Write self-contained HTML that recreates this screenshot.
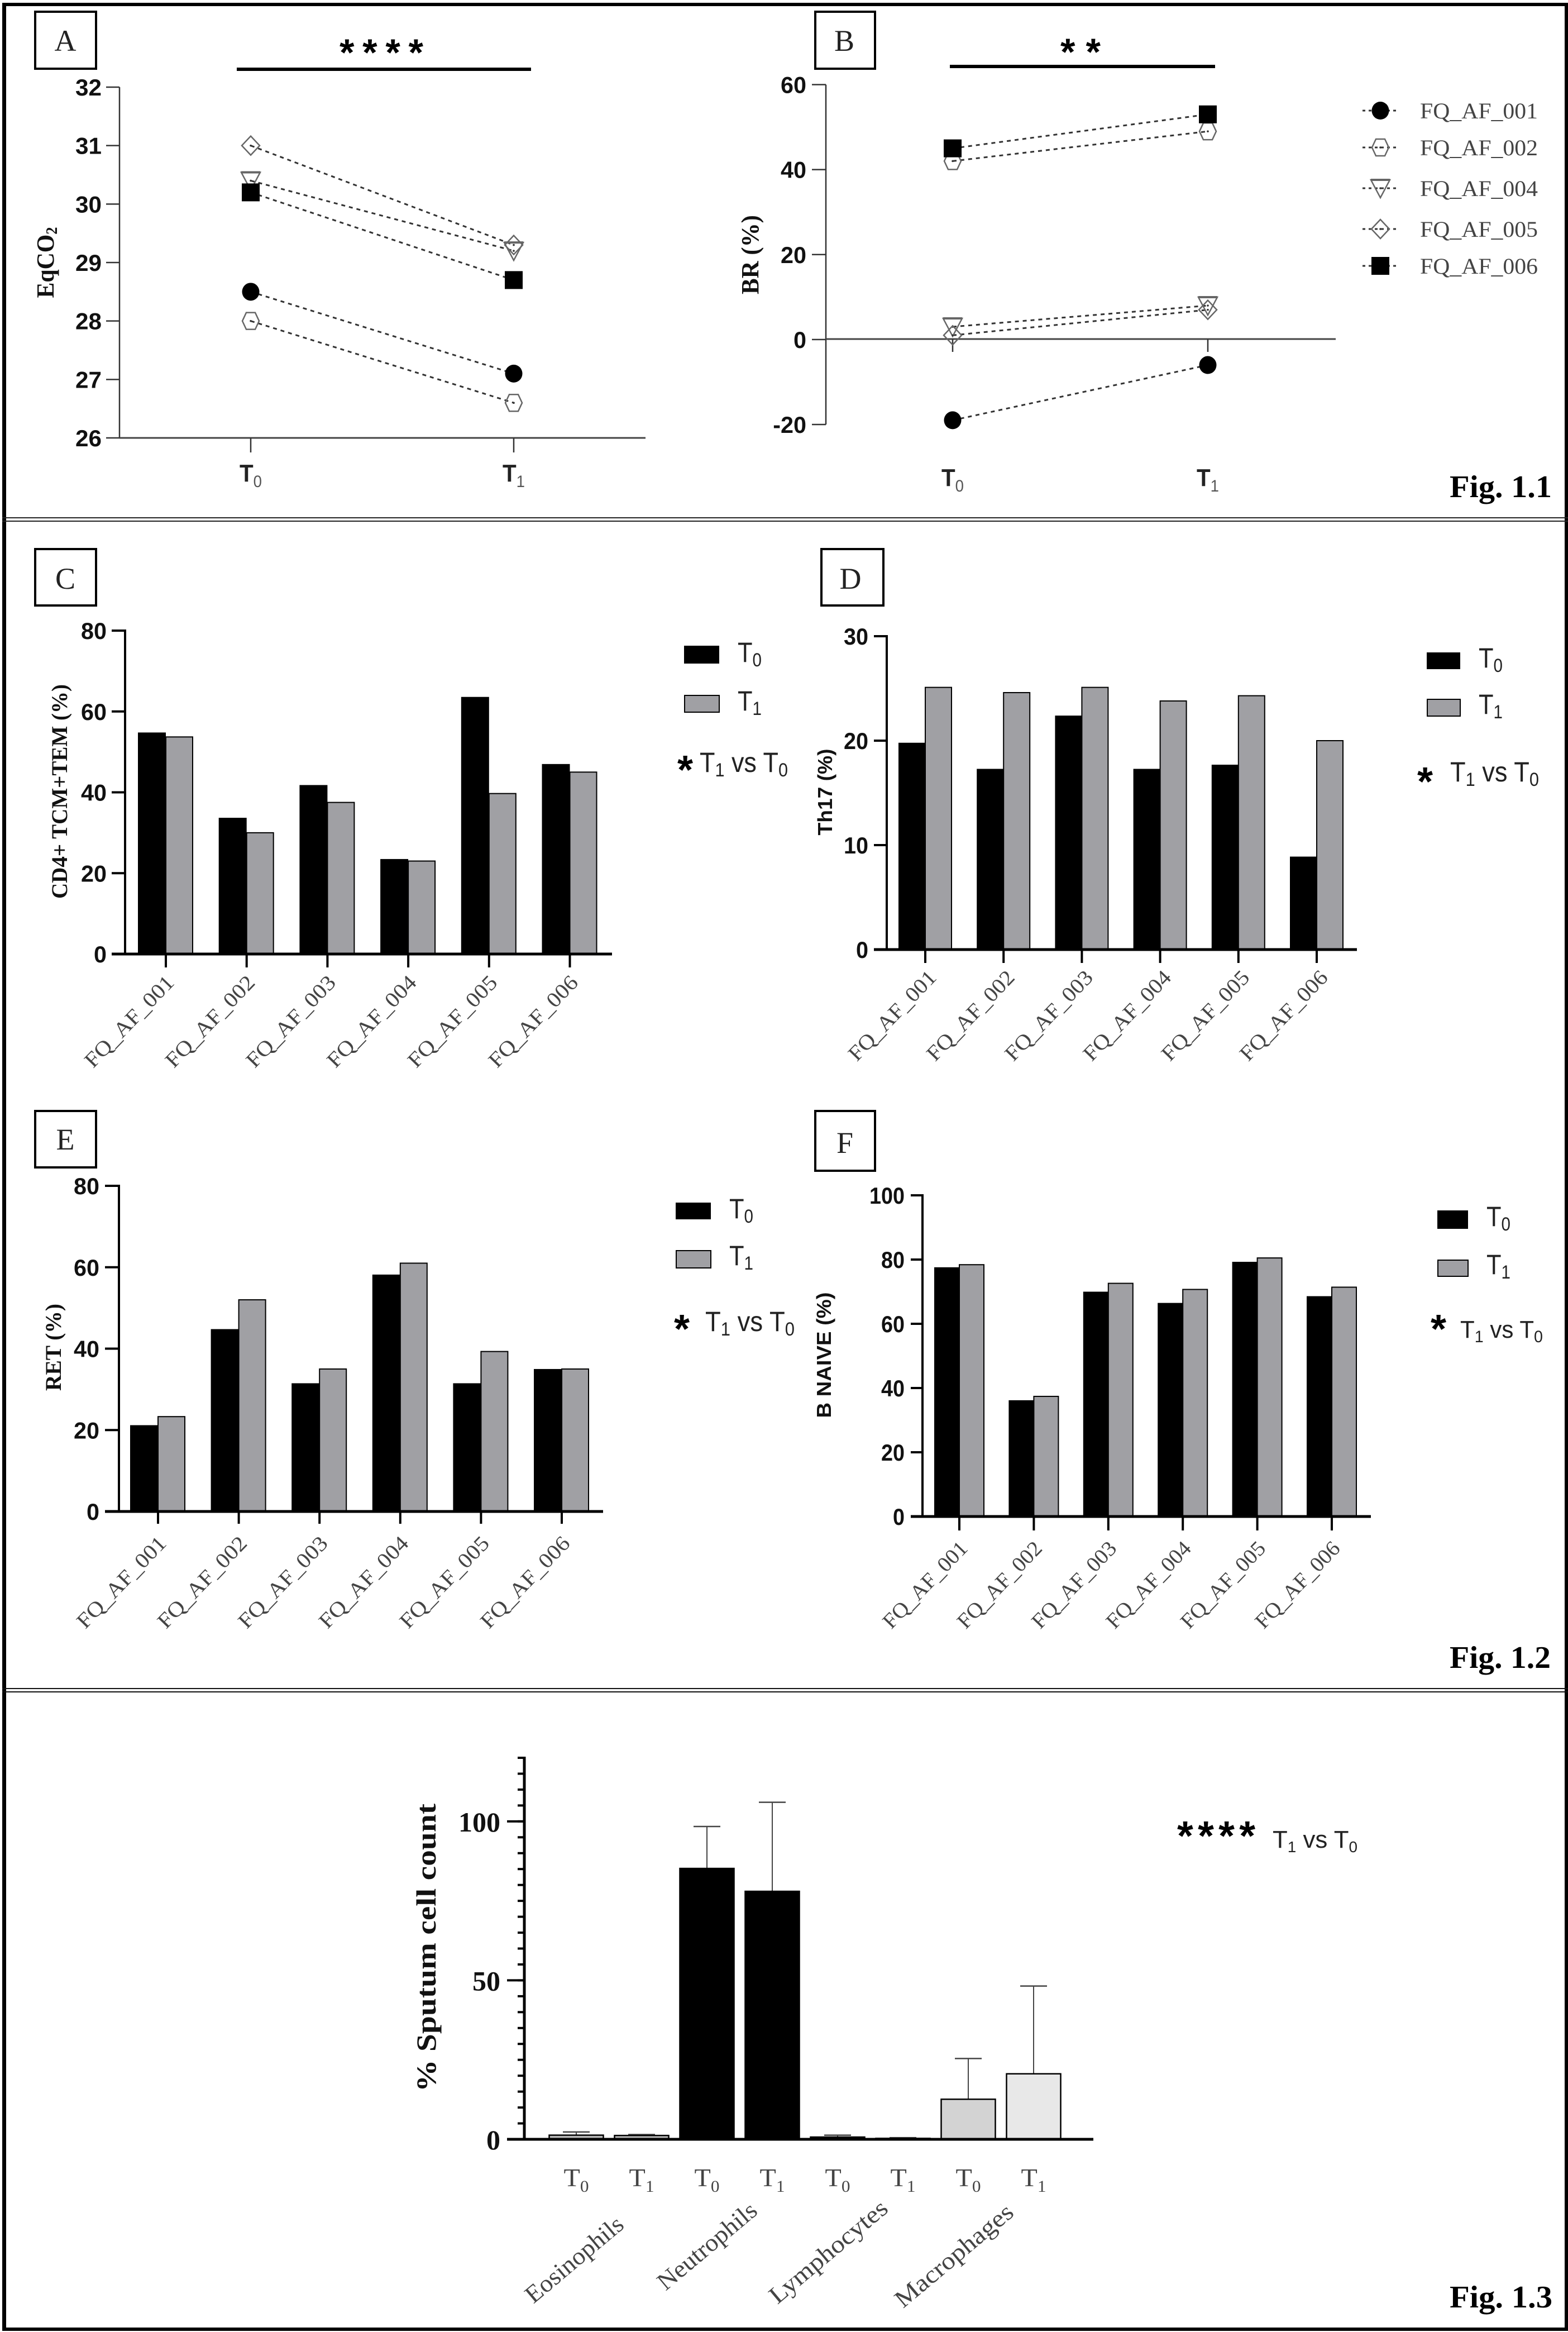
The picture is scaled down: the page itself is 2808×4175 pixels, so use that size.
<!DOCTYPE html>
<html lang="en">
<head>
<meta charset="utf-8">
<title>Figure 1 panels</title>
<style>
html,body{margin:0;padding:0;background:#fff}
svg{display:block}
.letter{font-family:"Liberation Serif",serif;font-size:54px;fill:#222;text-anchor:middle}
.fig{font-family:"Liberation Serif",serif;font-size:56px;font-weight:bold;fill:#000}
.ser{font-family:"Liberation Serif",serif;font-weight:bold;fill:#111;text-anchor:middle}
.san{font-family:"Liberation Sans",sans-serif;font-weight:bold;fill:#111;text-anchor:middle}
.leg{font-family:"Liberation Sans",sans-serif;font-size:50px;fill:#222}
.star{font-family:"Liberation Sans",sans-serif;font-weight:bold;fill:#000}
</style>
</head>
<body>
<svg id="figure" xmlns="http://www.w3.org/2000/svg" width="2808" height="4175" viewBox="0 0 2808 4175">
<rect x="0" y="0" width="2808" height="4175" fill="#fff"/>
<g id="frame">
  <rect x="4" y="5" width="7" height="4168" fill="#000"/>
  <rect x="2802" y="5" width="6" height="4168" fill="#000"/>
  <rect x="4" y="5" width="2804" height="6" fill="#000"/>
  <rect x="4" y="4167" width="2804" height="6" fill="#000"/>
  <rect x="4" y="926" width="2804" height="2" fill="#222"/>
  <rect x="4" y="932" width="2804" height="2" fill="#222"/>
  <rect x="4" y="3022" width="2804" height="2" fill="#111"/>
  <rect x="4" y="3028" width="2804" height="2" fill="#111"/>
</g>

<!-- Panel letters -->
<g fill="none" stroke="#000" stroke-width="4">
  <rect x="63" y="21" width="109" height="102"/>
  <rect x="1460" y="21" width="107" height="102"/>
  <rect x="63" y="983" width="109" height="101"/>
  <rect x="1471" y="983" width="111" height="101"/>
  <rect x="63" y="1989" width="109" height="101"/>
  <rect x="1460" y="1989" width="107" height="107"/>
</g>
<text class="letter" x="117" y="91">A</text>
<text class="letter" x="1512" y="91">B</text>
<text class="letter" x="117" y="1054">C</text>
<text class="letter" x="1523" y="1054">D</text>
<text class="letter" x="117" y="2058">E</text>
<text class="letter" x="1513" y="2064">F</text>

<!-- Significance bars -->
<rect x="424" y="121" width="527" height="6" fill="#000"/>
<rect x="1701" y="116" width="475" height="6" fill="#000"/>
<text class="star" font-size="68" x="683" y="117" text-anchor="middle" textLength="150" lengthAdjust="spacing">****</text>
<text class="star" font-size="68" x="1935" y="116" text-anchor="middle" textLength="72" lengthAdjust="spacing">**</text>

<!-- Y titles -->
<text class="ser" font-size="44" transform="translate(96,470) rotate(-90)" textLength="127" lengthAdjust="spacingAndGlyphs">EqCO<tspan font-size="28" dy="6">2</tspan></text>
<text class="ser" font-size="44" transform="translate(1358,456) rotate(-90)" textLength="142" lengthAdjust="spacingAndGlyphs">BR (%)</text>
<text class="ser" font-size="40" transform="translate(120,1417) rotate(-90)" textLength="384" lengthAdjust="spacingAndGlyphs">CD4+ TCM+TEM (%)</text>
<text class="san" font-size="36" transform="translate(1490,1418) rotate(-90)" textLength="155" lengthAdjust="spacingAndGlyphs">Th17 (%)</text>
<text class="ser" font-size="40" transform="translate(109,2412) rotate(-90)" textLength="156" lengthAdjust="spacingAndGlyphs">RET (%)</text>
<text class="san" font-size="36" transform="translate(1488,2426) rotate(-90)" textLength="225" lengthAdjust="spacingAndGlyphs">B NAIVE (%)</text>
<text class="ser" font-size="50" transform="translate(780,3487) rotate(-90)" textLength="516" lengthAdjust="spacingAndGlyphs">% Sputum cell count</text>

<!-- Bar legends -->
<g>
  <rect x="1225" y="1156" width="63" height="32" fill="#000"/>
  <rect x="1226" y="1245" width="62" height="30" fill="#a0a0a4" stroke="#000" stroke-width="2"/>
  <text class="leg" x="1321" y="1185" textLength="43" lengthAdjust="spacingAndGlyphs">T<tspan font-size="34" dy="8">0</tspan></text>
  <text class="leg" x="1321" y="1272" textLength="43" lengthAdjust="spacingAndGlyphs">T<tspan font-size="34" dy="8">1</tspan></text>
  <text class="star" font-size="72" x="1227" y="1403" text-anchor="middle">*</text>
  <text class="leg" x="1253" y="1382" textLength="158" lengthAdjust="spacingAndGlyphs">T<tspan font-size="34" dy="8">1</tspan><tspan dy="-8"> vs T</tspan><tspan font-size="34" dy="8">0</tspan></text>
</g>
<g>
  <rect x="2555" y="1168" width="60" height="30" fill="#000"/>
  <rect x="2556" y="1252" width="59" height="30" fill="#a0a0a4" stroke="#000" stroke-width="2"/>
  <text class="leg" x="2648" y="1195" textLength="43" lengthAdjust="spacingAndGlyphs">T<tspan font-size="34" dy="8">0</tspan></text>
  <text class="leg" x="2648" y="1278" textLength="43" lengthAdjust="spacingAndGlyphs">T<tspan font-size="34" dy="8">1</tspan></text>
  <text class="star" font-size="72" x="2552" y="1424" text-anchor="middle">*</text>
  <text class="leg" x="2597" y="1399" textLength="159" lengthAdjust="spacingAndGlyphs">T<tspan font-size="34" dy="8">1</tspan><tspan dy="-8"> vs T</tspan><tspan font-size="34" dy="8">0</tspan></text>
</g>
<g>
  <rect x="1210" y="2153" width="63" height="30" fill="#000"/>
  <rect x="1211" y="2239" width="62" height="31" fill="#a0a0a4" stroke="#000" stroke-width="2"/>
  <text class="leg" x="1306" y="2181" textLength="43" lengthAdjust="spacingAndGlyphs">T<tspan font-size="34" dy="8">0</tspan></text>
  <text class="leg" x="1306" y="2265" textLength="43" lengthAdjust="spacingAndGlyphs">T<tspan font-size="34" dy="8">1</tspan></text>
  <text class="star" font-size="72" x="1221" y="2404" text-anchor="middle">*</text>
  <text class="leg" x="1263" y="2383" textLength="160" lengthAdjust="spacingAndGlyphs">T<tspan font-size="34" dy="8">1</tspan><tspan dy="-8"> vs T</tspan><tspan font-size="34" dy="8">0</tspan></text>
</g>
<g>
  <rect x="2574" y="2167" width="55" height="33" fill="#000"/>
  <rect x="2575" y="2256" width="54" height="29" fill="#a0a0a4" stroke="#000" stroke-width="2"/>
  <text class="leg" x="2662" y="2195" textLength="43" lengthAdjust="spacingAndGlyphs">T<tspan font-size="34" dy="8">0</tspan></text>
  <text class="leg" x="2662" y="2281" textLength="43" lengthAdjust="spacingAndGlyphs">T<tspan font-size="34" dy="8">1</tspan></text>
  <text class="star" font-size="72" x="2576" y="2404" text-anchor="middle">*</text>
  <text class="leg" style="font-size:44px" x="2615" y="2395" textLength="148" lengthAdjust="spacingAndGlyphs">T<tspan font-size="30" dy="8">1</tspan><tspan dy="-8"> vs T</tspan><tspan font-size="30" dy="8">0</tspan></text>
</g>
<g>
  <text class="star" font-size="74" x="2178" y="3312" text-anchor="middle" textLength="140" lengthAdjust="spacing">****</text>
  <text class="leg" style="font-size:44px" x="2279" y="3308" textLength="152" lengthAdjust="spacingAndGlyphs">T<tspan font-size="28" dy="8">1</tspan><tspan dy="-8"> vs T</tspan><tspan font-size="28" dy="8">0</tspan></text>
</g>

<!-- Figure labels -->
<text class="fig" x="2596" y="890" textLength="183" lengthAdjust="spacingAndGlyphs">Fig. 1.1</text>
<text class="fig" x="2596" y="2986" textLength="181" lengthAdjust="spacingAndGlyphs">Fig. 1.2</text>
<text class="fig" x="2596" y="4131" textLength="184" lengthAdjust="spacingAndGlyphs">Fig. 1.3</text>

<g id="charts"></g>
</svg>

<script>
/* ---------- Data ---------- */
const timepoints = ['0', '1'];

const linePatients = ['FQ_AF_001', 'FQ_AF_002', 'FQ_AF_004', 'FQ_AF_005', 'FQ_AF_006'];
const eqco2T0 = [28.5, 28, 30.4, 31, 30.2];
const eqco2T1 = [27.1, 26.6, 29.2, 29.3, 28.7];
const eqco2Ticks = [26, 27, 28, 29, 30, 31, 32];
const brT0 = [-19, 42, 3, 1, 45];
const brT1 = [-6, 49, 8, 7, 53];
const brTicks = [-20, 0, 20, 40, 60];

const barPatients = ['FQ_AF_001', 'FQ_AF_002', 'FQ_AF_003', 'FQ_AF_004', 'FQ_AF_005', 'FQ_AF_006'];
const cd4T0 = [54.8, 33.7, 41.8, 23.5, 63.6, 47];
const cd4T1 = [53.7, 30, 37.5, 23, 39.7, 45];
const cd4Ticks = [0, 20, 40, 60, 80];
const th17T0 = [19.8, 17.3, 22.4, 17.3, 17.7, 8.9];
const th17T1 = [25.1, 24.6, 25.1, 23.8, 24.3, 20];
const th17Ticks = [0, 10, 20, 30];
const retT0 = [21.2, 44.8, 31.5, 58.2, 31.5, 35];
const retT1 = [23.3, 52, 35, 61, 39.3, 35];
const retTicks = [0, 20, 40, 60, 80];
const bNaiveT0 = [77.6, 36.2, 70, 66.5, 79.3, 68.6];
const bNaiveT1 = [78.4, 37.4, 72.6, 70.7, 80.5, 71.4];
const bNaiveTicks = [0, 20, 40, 60, 80, 100];

const sputumCategories = ['Eosinophils', 'Neutrophils', 'Lymphocytes', 'Macrophages'];
const sputumMeans = [1.3, 1.2, 85.2, 78, 0.7, 0.3, 12.6, 20.6];
const sputumErrors = [1, 0.3, 13.2, 28, 0.6, 0.2, 12.8, 27.6];
const sputumMajorTicks = [0, 50, 100];
const sputumMinorTicks = [0, 5, 10, 15, 20, 25, 30, 35, 40, 45, 50, 55, 60, 65, 70, 75, 80, 85, 90, 95, 100, 105, 110, 115, 120];

/* ---------- Layout (pixels and styling, separate from the data) ---------- */
const layoutA = {key:'a', axisX:214, yTop:156, yBottom:784, axisRight:1156, tickLeft:190, tickRight:182, x0:449, x1:920, digit:23.5, tickEnd:810, labelY:862, axisY:784};
const layoutB = {key:'b', axisX:1479, yTop:151.5, yBottom:760, axisRight:2392, tickLeft:1454, tickRight:1444, x0:1706, x1:2163, digit:23, tickEnd:630, labelY:870, axisY:607};
const layoutC = {key:'c', axisX:224, yTop:1129, yBottom:1708, axisRight:1096, tickLeft:200, labelRight:191, x0:297, step:144.7, bw0:50, bw1:48, tickEnd:1732, labelDx:17, labelDy:53, labelLen:212, digit:23};
const layoutD = {key:'d', axisX:1588, yTop:1139, yBottom:1700, axisRight:2430, tickLeft:1565, labelRight:1555, x0:1657, step:140.2, bw0:48, bw1:47, tickEnd:1724, labelDx:22, labelDy:52, labelLen:208, digit:22};
const layoutE = {key:'e', axisX:213, yTop:2123, yBottom:2706, axisRight:1080, tickLeft:188, labelRight:178, x0:283, step:144.6, bw0:50, bw1:48, tickEnd:2728, labelDx:17, labelDy:59, labelLen:212, digit:23};
const layoutF = {key:'f', axisX:1652, yTop:2140, yBottom:2715, axisRight:2455, tickLeft:1631, labelRight:1620, x0:1718, step:133.4, bw0:45, bw1:44, tickEnd:2740, labelDx:17, labelDy:59, labelLen:200, digit:21};
const layoutS = {axisX:939, yTop:3147, yBottom:3830, axisRight:1958, majorLeft:908, minorLeft:927, x0:1032, step:117, bw:97, cap:48, labelRight:896, tLabelY:3914,
  catEnds:[[1120,3987],[1359,3962],[1593,3958],[1818,3965]], catLens:[215,218,262,262],
  fills:['#b9b9b9','#b9b9b9','#000','#000','#000','#000','#d3d3d3','#e8e8e8']};
const legendLayout = {lineLeft:2440, lineRight:2504, markerX:2472, textX:2543, textLen:211, rows:[198,264,337,410,476]};
const tickFontSize = 42;

/* ---------- Helpers ---------- */
const NS = 'http://www.w3.org/2000/svg';
const root = document.getElementById('charts');
function make(tag, attrs, parent) {
  const el = document.createElementNS(NS, tag);
  for (const k in attrs) el.setAttribute(k, attrs[k]);
  parent.appendChild(el);
  return el;
}
function line(parent, x1, y1, x2, y2, stroke, width) {
  return make('line', {x1:x1, y1:y1, x2:x2, y2:y2, stroke:stroke, 'stroke-width':width}, parent);
}
function tickText(parent, rightX, y, str, digitW) {
  const el = make('text', {
    transform:'translate(' + rightX + ',' + y + ') scale(' + (digitW / (tickFontSize * 0.556)) + ',1)',
    'text-anchor':'end', 'font-family':'"Liberation Sans",sans-serif', 'font-weight':'bold',
    'font-size':tickFontSize, fill:'#111'
  }, parent);
  el.textContent = str;
  return el;
}
function timeLabel(parent, x, y, sub) {
  const el = make('text', {x:x, y:y, 'text-anchor':'middle', textLength:40, lengthAdjust:'spacingAndGlyphs',
    'font-family':'"Liberation Sans",sans-serif', 'font-weight':'bold', 'font-size':44, fill:'#222'}, parent);
  el.appendChild(document.createTextNode('T'));
  const s = make('tspan', {dy:10, 'font-size':30, 'font-weight':'normal', fill:'#555'}, el);
  s.textContent = sub;
  return el;
}
function drawMarker(parent, kind, cx, cy) {
  const open = {fill:'none', stroke:'#666', 'stroke-width':2.5};
  let el;
  if (kind === 0) {
    el = make('ellipse', {cx:cx, cy:cy, rx:15.5, ry:16, fill:'#000'}, parent);
  } else if (kind === 4) {
    el = make('rect', {x:cx - 16, y:cy - 16, width:32, height:32, fill:'#000'}, parent);
  } else {
    let pts;
    if (kind === 1) pts = [[-15,0],[-8,-15],[8,-15],[15,0],[8,15],[-8,15]];
    if (kind === 2) pts = [[-17,-15],[17,-15],[0,17]];
    if (kind === 3) pts = [[0,-17],[16,0],[0,17],[-16,0]];
    el = make('polygon', Object.assign({points:pts.map(p => (cx + p[0]) + ',' + (cy + p[1])).join(' ')}, open), parent);
    make('circle', {cx:cx, cy:cy, r:1.8, fill:'#333'}, parent);
    if (kind === 2) line(parent, cx - 17, cy - 15, cx + 17, cy - 15, '#666', 4);
  }
  return el;
}

/* ---------- Paired line panels (A, B) ---------- */
function drawLinePanel(L, ticks, valuesT0, valuesT1) {
  const g = make('g', {}, root);
  
  
  const lo = ticks[0], hi = ticks[ticks.length - 1];
  const y = v => L.yBottom + (v - lo) / (hi - lo) * (L.yTop - L.yBottom);

  const yAxis = line(g, L.axisX, L.yTop, L.axisX, L.yBottom, '#333', 2.5);
  
  
  const xAxis = line(g, L.axisX, L.axisY, L.axisRight, L.axisY, '#444', 3);
  
  

  ticks.forEach(t => {
    const tk = line(g, L.tickLeft, y(t), L.axisX, y(t), '#333', 2.5);
    
    
    const lab = tickText(g, L.tickRight, y(t) + 15, String(t), L.digit);
    
    
  });
  [L.x0, L.x1].forEach((xp, i) => {
    const tk = line(g, xp, L.axisY, xp, L.tickEnd, '#333', 2.5);
    
    
    const lab = timeLabel(g, xp, L.labelY, timepoints[i]);
    
    
  });

  linePatients.forEach((name, i) => {
    const a = valuesT0[i], b = valuesT1[i];
    const ln = make('line', {x1:L.x0, y1:y(a), x2:L.x1, y2:y(b), stroke:'#333', 'stroke-width':3, 'stroke-dasharray':'7 7'}, g);
    
    
  });
  linePatients.forEach((name, i) => {
    const m0 = drawMarker(g, i, L.x0, y(valuesT0[i]));
    
    
    const m1 = drawMarker(g, i, L.x1, y(valuesT1[i]));
    
    
  });
}

function drawLineLegend() {
  const g = make('g', {}, root);
  
  
  linePatients.forEach((name, i) => {
    const yy = legendLayout.rows[i];
    const ln = make('line', {x1:legendLayout.lineLeft, y1:yy, x2:legendLayout.lineRight, y2:yy, stroke:'#333', 'stroke-width':3, 'stroke-dasharray':'5 6'}, g);
    
    
    const m = drawMarker(g, i, legendLayout.markerX, yy);
    
    
    const t = make('text', {x:legendLayout.textX, y:yy + 14, textLength:legendLayout.textLen, lengthAdjust:'spacingAndGlyphs',
      'font-family':'"Liberation Serif",serif', 'font-size':40, fill:'#444'}, g);
    t.textContent = name;
    
    
  });
}

/* ---------- Grouped bar panels (C-F) ---------- */
function drawBarPanel(L, ticks, valuesT0, valuesT1) {
  const g = make('g', {}, root);
  
  
  const lo = ticks[0], hi = ticks[ticks.length - 1];
  const y = v => L.yBottom + (v - lo) / (hi - lo) * (L.yTop - L.yBottom);
  const x = i => L.x0 + i * L.step;

  barPatients.forEach((name, i) => {
    const r0 = make('rect', {x:x(i) - L.bw0, y:y(valuesT0[i]), width:L.bw0, height:L.yBottom - y(valuesT0[i]), fill:'#000'}, g);
    
    
    const r1 = make('rect', {x:x(i), y:y(valuesT1[i]), width:L.bw1, height:L.yBottom - y(valuesT1[i]), fill:'#a0a0a4', stroke:'#000', 'stroke-width':2}, g);
    
    
    const tk = line(g, x(i), L.yBottom, x(i), L.tickEnd, '#000', 4);
    
    
    const lab = make('text', {
      transform:'translate(' + (x(i) + L.labelDx) + ',' + (L.yBottom + L.labelDy) + ') rotate(-46)',
      'text-anchor':'end', textLength:L.labelLen, lengthAdjust:'spacingAndGlyphs',
      'font-family':'"Liberation Serif",serif', 'font-size':38, fill:'#444'}, g);
    lab.textContent = name;
    
    
  });

  const yAxis = line(g, L.axisX, L.yTop - 2, L.axisX, L.yBottom + 2, '#000', 4);
  
  
  const xAxis = line(g, L.tickLeft, L.yBottom, L.axisRight, L.yBottom, '#000', 5);
  
  
  ticks.forEach(t => {
    const tk = line(g, L.tickLeft, y(t), L.axisX, y(t), '#000', 4);
    
    
    const lab = tickText(g, L.labelRight, y(t) + 15, String(t), L.digit);
    
    
  });
}

/* ---------- Sputum bars with error bars ---------- */
function drawSputum() {
  const L = layoutS;
  const g = make('g', {}, root);
  
  
  const lo = sputumMinorTicks[0], hi = sputumMinorTicks[sputumMinorTicks.length - 1];
  const y = v => L.yBottom + (v - lo) / (hi - lo) * (L.yTop - L.yBottom);
  const x = i => L.x0 + i * L.step;

  sputumMeans.forEach((m, i) => {
    const top = y(m + sputumErrors[i]);
    const stem = line(g, x(i), top, x(i), y(m), '#444', 2);
    
    
    const cap = line(g, x(i) - L.cap / 2, top, x(i) + L.cap / 2, top, '#444', 2.5);
    
    
    const bar = make('rect', {x:x(i) - L.bw / 2, y:y(m), width:L.bw, height:L.yBottom - y(m), fill:L.fills[i], stroke:'#000', 'stroke-width':2.5}, g);
    
    
    const lab = make('text', {x:x(i), y:L.tLabelY, 'text-anchor':'middle', textLength:45, lengthAdjust:'spacingAndGlyphs',
      'font-family':'"Liberation Serif",serif', 'font-size':46, fill:'#444'}, g);
    lab.appendChild(document.createTextNode('T'));
    const s = make('tspan', {dy:10, 'font-size':30}, lab);
    s.textContent = timepoints[i % 2];
    
    
  });

  const yAxis = line(g, L.axisX, L.yTop - 2, L.axisX, L.yBottom, '#000', 5);
  
  
  const xAxis = line(g, L.majorLeft, L.yBottom, L.axisRight, L.yBottom, '#000', 5);
  
  
  sputumMinorTicks.forEach(t => {
    const tk = line(g, L.minorLeft, y(t), L.axisX, y(t), '#000', 4);
    
    
  });
  sputumMajorTicks.forEach(t => {
    const tk = line(g, L.majorLeft, y(t), L.axisX, y(t), '#000', 4);
    
    
    const lab = make('text', {x:L.labelRight, y:y(t) + 18, 'text-anchor':'end',
      'font-family':'"Liberation Serif",serif', 'font-weight':'bold', 'font-size':50, fill:'#111'}, g);
    lab.textContent = String(t);
    
    
  });
  sputumCategories.forEach((c, i) => {
    const lab = make('text', {
      transform:'translate(' + L.catEnds[i][0] + ',' + L.catEnds[i][1] + ') rotate(-40)',
      'text-anchor':'end', textLength:L.catLens[i], lengthAdjust:'spacingAndGlyphs',
      'font-family':'"Liberation Serif",serif', 'font-size':44, fill:'#444'}, g);
    lab.textContent = c;
    
    
  });
}

drawLinePanel(layoutA, eqco2Ticks, eqco2T0, eqco2T1);
drawLinePanel(layoutB, brTicks, brT0, brT1);
drawLineLegend();
drawBarPanel(layoutC, cd4Ticks, cd4T0, cd4T1);
drawBarPanel(layoutD, th17Ticks, th17T0, th17T1);
drawBarPanel(layoutE, retTicks, retT0, retT1);
drawBarPanel(layoutF, bNaiveTicks, bNaiveT0, bNaiveT1);
drawSputum();
</script>
</body>
</html>
